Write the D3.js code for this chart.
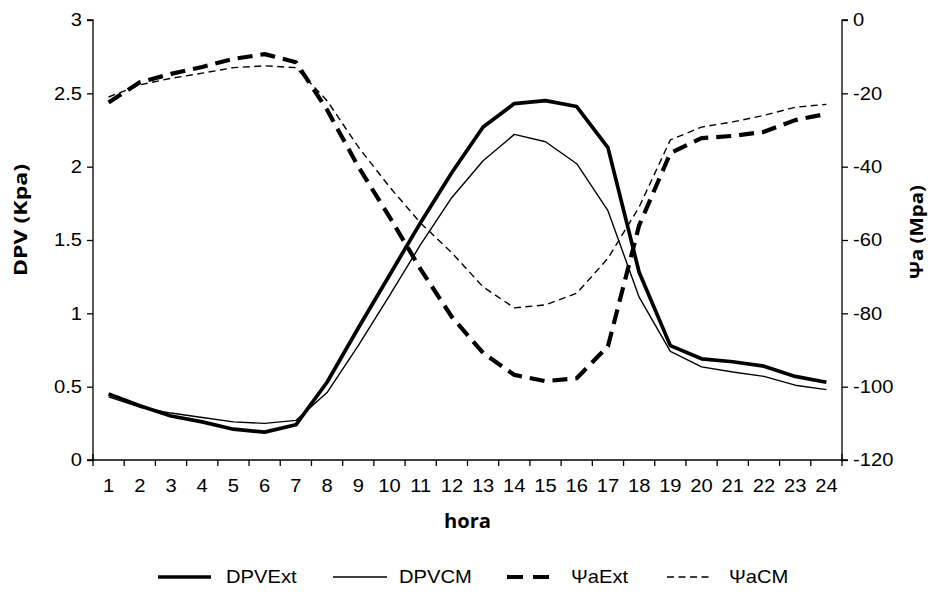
<!DOCTYPE html>
<html><head><meta charset="utf-8">
<script src="https://cdn.jsdelivr.net/npm/d3@7"></script>
<style>body{margin:0;background:#fff}svg{display:block}</style>
</head><body>
<svg id="c" width="938" height="593"></svg>
<script>
const hours = [1,2,3,4,5,6,7,8,9,10,11,12,13,14,15,16,17,18,19,20,21,22,23,24];
const dpvExt = [0.45,0.37,0.30,0.26,0.21,0.19,0.24,0.53,0.90,1.26,1.62,1.96,2.27,2.43,2.45,2.41,2.13,1.28,0.78,0.69,0.67,0.64,0.57,0.53];
const dpvCM  = [0.43,0.36,0.32,0.29,0.26,0.25,0.27,0.46,0.78,1.12,1.47,1.79,2.04,2.22,2.17,2.02,1.70,1.11,0.74,0.635,0.60,0.57,0.51,0.48];
const psiExt = [-22.5,-17,-14.7,-12.8,-10.6,-9.3,-11.5,-24.5,-40,-53.7,-68,-81,-90.8,-96.8,-98.5,-97.7,-89,-56,-36.3,-32.2,-31.6,-30.5,-27.3,-25.6];
const psiCM  = [-21,-17.7,-15.9,-14.5,-13,-12.5,-13,-22,-34.6,-45.5,-55.4,-63.5,-72.8,-78.5,-77.7,-74.5,-65,-51,-32.7,-29.2,-27.8,-26,-23.8,-23];
const leftTicks = [0,0.5,1,1.5,2,2.5,3];
const rightTicks = [-120,-100,-80,-60,-40,-20,0];
const seriesNames = ["DPVExt","DPVCM","\u03A8aExt","\u03A8aCM"];

const svg = d3.select("#c");
const L = 93, R = 842, T = 20, B = 460;
const x = d3.scaleBand().domain(hours).range([L, R]);
const yL = d3.scaleLinear().domain([0,3]).range([B,T]);
const yR = d3.scaleLinear().domain([-120,0]).range([B,T]);
const tickFont = "'Liberation Sans', Arial, sans-serif";
const titleFont = "'Open Sans', Lato, sans-serif";
const FS = 18, SX = 1.12;

function stretch(sel){
  sel.each(function(){
    const t = d3.select(this);
    const ax = +t.attr("x") || 0;
    t.attr("transform",`translate(${ax},0) scale(${SX},1) translate(${-ax},0)`);
  });
}

const gl = svg.append("g").attr("transform",`translate(${L},0)`)
  .call(d3.axisLeft(yL).tickValues(leftTicks).tickSize(6).tickPadding(5).tickFormat(d=>String(d)));
const gr = svg.append("g").attr("transform",`translate(${R},0)`)
  .call(d3.axisRight(yR).tickValues(rightTicks).tickSize(6).tickPadding(5).tickFormat(d=>String(d)));
const gx = svg.append("g").attr("transform",`translate(0,${B})`)
  .call(d3.axisBottom(x).tickSize(0).tickPadding(19));
[gl,gr,gx].forEach(g=>{
  g.select(".domain").attr("stroke","#000").attr("stroke-width",1.3);
  g.selectAll(".tick line").attr("stroke","#000").attr("stroke-width",1.3);
  g.selectAll("text").attr("font-family",tickFont).attr("font-size",FS).attr("fill","#000").call(stretch);
});
gl.select(".domain").attr("d",`M-6,${T}H0V${B}H-6`);
gr.select(".domain").attr("d",`M6,${T}H0V${B}H6`);
gx.select(".domain").attr("d",`M${L},0H${R}`);
const bounds = hours.map(h=>x(h)).concat([R]);
gx.selectAll(".bt").data(bounds).join("line").attr("class","bt")
  .attr("x1",d=>d).attr("x2",d=>d).attr("y1",(d,i)=>(i>0&&i<bounds.length-1)?0:-6).attr("y2",6)
  .attr("stroke","#000").attr("stroke-width",1.3);

svg.append("text").attr("transform",`translate(27,220) rotate(-90)`)
  .attr("text-anchor","middle").attr("font-family",titleFont).attr("font-weight","bold")
  .attr("font-size",18).attr("textLength",112).attr("lengthAdjust","spacingAndGlyphs").text("DPV (Kpa)");
svg.append("text").attr("transform",`translate(923,232) rotate(-90)`)
  .attr("text-anchor","middle").attr("font-family",titleFont).attr("font-weight","bold")
  .attr("font-size",18).attr("textLength",94).attr("lengthAdjust","spacingAndGlyphs").text("\u03A8a (Mpa)");
svg.append("text").attr("x",(L+R)/2).attr("y",528)
  .attr("text-anchor","middle").attr("font-family",titleFont).attr("font-weight","bold")
  .attr("font-size",19).attr("textLength",47).attr("lengthAdjust","spacingAndGlyphs").text("hora");

const cx = d => x(d) + x.bandwidth()/2;
const styles = [
  {w:3.7, dash:null},
  {w:1.4, dash:null},
  {w:4.2, dash:"15,8"},
  {w:1.4, dash:"7,4.5"}
];
const data = [
  {vals:dpvExt, y:yL},
  {vals:dpvCM, y:yL},
  {vals:psiExt, y:yR},
  {vals:psiCM, y:yR}
];
data.forEach((s,i)=>{
  const line = d3.line().x((d,j)=>cx(hours[j])).y(d=>s.y(d));
  svg.append("path").attr("d",line(s.vals)).attr("fill","none").attr("stroke","#000")
    .attr("stroke-width",styles[i].w).attr("stroke-linejoin","round")
    .attr("stroke-dasharray",styles[i].dash);
});

const legLine = [[158,211],[333,387],[507,552],[667,710]];
const legText = [226,399,571,729];
const legY = 577;
seriesNames.forEach((n,i)=>{
  svg.append("line").attr("x1",legLine[i][0]).attr("x2",legLine[i][1]).attr("y1",legY).attr("y2",legY)
    .attr("stroke","#000").attr("stroke-width",styles[i].w)
    .attr("stroke-dasharray",i===2?"16,10":styles[i].dash);
  svg.append("text").attr("x",legText[i]).attr("y",legY+6.5)
    .attr("font-family",tickFont).attr("font-size",FS).text(n).call(stretch);
});
</script>
</body></html>
